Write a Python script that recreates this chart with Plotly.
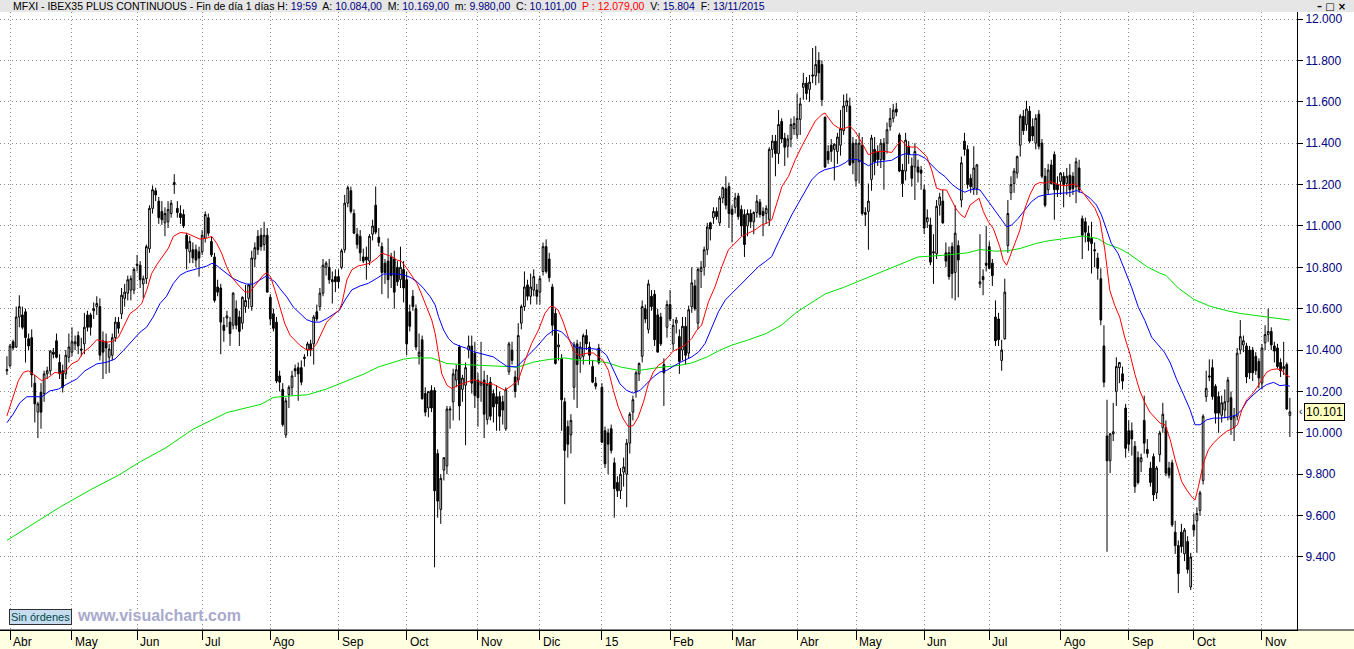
import plotly.graph_objects as go

# ---------------- data (daily candles, Apr-2014 .. 13-Nov-2015) ----------------
open_ = [
    10300,10325,10440,10415,10560,10570,10585,10455,10460,10240,
    10100,10195,10190,10285,10300,10390,10445,10340,10300,10285,
    10365,10390,10430,10470,10405,10430,10570,10570,10590,10610,
    10610,10445,10440,10365,10375,10460,10535,10575,10650,10675,
    10690,10690,10815,10810,10720,10745,10890,11085,11170,11120,
    11070,11015,11020,11060,11200,11085,11060,11055,10955,10875,
    10885,10885,10875,10875,10940,11040,10925,10850,10705,10700,
    10520,10555,10535,10520,10600,10560,10530,10610,10650,10610,
    10840,10950,10955,10910,10955,10655,10575,10535,10275,10210,
    9990,10185,10220,10310,10315,10315,10365,10400,10430,10430,
    10585,10610,10675,10800,10800,10740,10755,10755,
    10800,10885,11110,11170,11060,10960,10950,10850,10850,10830,
    10960,11100,10945,10900,10820,10830,10850,10840,10800,10740,
    10790,10740,10585,10660,10600,10370,10450,10190,10120,10205,
    10205,9900,9630,9820,9840,10110,10150,10255,10415,10210,
    10230,10400,10420,10385,10255,10230,10255,10065,10245,10190,
    10175,10175,10150,
    10020,10295,10400,10270,10255,10530,10610,10715,10660,10690,
    10690,10680,10780,10900,10840,10705,10577,10415,10360,10150,
    10030,9990,10220,10430,10360,10370,10470,10415,10320,10240,
    10410,10220,10010,10000,10020,9855,9760,9720,9810,9800,
    9950,10100,10200,10285,10370,10600,10500,10660,10670,10570,
    10560,10330,10510,10620,10430,
    10530,10465,10400,10515,10385,10610,10710,10530,10780,10800,
    10885,11015,11040,11070,11015,11135,11180,11190,11080,11090,
    11145,11080,11055,11000,11060,11020,11065,11115,11070,11060,
    11030,11370,11410,11350,11505,11425,11385,11420,11470,11440,
    11515,11670,11690,11660,11730,11725,11800,11780,11525,11360,
    11390,11370,11360,11390,
    11460,11580,11580,11400,11220,11310,11390,11055,11070,11225,
    11370,11360,11320,11400,11400,11480,11520,11565,11440,11270,
    11265,11385,11290,11285,11285,11270,11175,11020,11005,10875,
    10865,11100,11120,10870,10870,10900,10775,10905,11125,11410,
    11370,11230,11180,11180,10720,10755,10820,10900,10820,10560,
    10550,
    10350,10455,10905,11160,11205,11255,11390,11530,11490,11555,
    11480,11400,11540,11400,11240,11175,11295,11345,11200,11215,
    11240,11205,11245,11240,11190,11280,11035,11020,10965,10940,
    10885,10845,10745,10420,9985,9865,9995,10200,10315,10285,
    10120,10010,10010,9935,9880,9860,10060,9920,9830,
    9885,9710,9895,10025,10025,9830,9855,9520,9455,9520,
    9415,9475,9255,9555,9575,9625,9770,10175,10275,10315,
    10225,10175,10085,10110,10150,10170,10025,10080,10400,10425,
    10420,10400,10400,10370,10345,10240,10435,10475,10490,10420,
    10410,10340,10310,10330,10084,
]
high = [
    10370,10430,10450,10610,10665,10610,10600,10480,10500,10280,
    10150,10240,10300,10320,10400,10410,10480,10380,10330,10400,
    10480,10510,10470,10490,10460,10580,10590,10580,10630,10660,
    10650,10490,10480,10430,10480,10560,10560,10700,10720,10760,
    10760,10800,10860,10830,10760,10910,11100,11195,11185,11140,
    11120,11090,11120,11125,11250,11120,11100,11080,10965,10950,
    10920,10910,10900,10980,11070,11060,10950,10870,10740,10720,
    10560,10590,10560,10680,10640,10590,10660,10715,10720,10880,
    10920,10980,10990,11020,10990,10670,10600,10560,10300,10240,
    10170,10230,10300,10330,10340,10350,10380,10440,10450,10570,
    10620,10700,10840,10830,10840,10780,10790,10790,
    10890,11150,11195,11190,11080,10990,10980,10890,10900,10960,
    11030,11190,10990,10920,10840,10940,10870,10880,10830,10900,
    10830,10780,10620,10690,10620,10480,10470,10220,10200,10230,
    10220,9920,9800,9880,10130,10130,10310,10330,10425,10280,
    10340,10470,10470,10440,10290,10440,10300,10280,10270,10210,
    10230,10200,10180,
    10220,10440,10440,10300,10530,10620,10780,10740,10770,10790,
    10720,10760,10920,10935,10870,10720,10600,10480,10380,10170,
    10060,10090,10440,10450,10440,10480,10500,10440,10350,10270,
    10430,10240,10030,10020,10040,9880,9790,9830,9880,9970,
    10100,10180,10300,10340,10640,10620,10740,10690,10690,10600,
    10580,10360,10640,10690,10550,
    10560,10500,10560,10560,10615,10800,10740,10800,10830,10900,
    11015,11020,11090,11090,11145,11190,11240,11210,11100,11160,
    11160,11100,11080,11080,11080,11070,11150,11130,11090,11100,
    11380,11440,11440,11560,11520,11450,11440,11520,11530,11640,
    11620,11740,11720,11730,11860,11870,11840,11800,11530,11390,
    11420,11400,11450,11560,
    11635,11640,11620,11430,11420,11450,11430,11090,11205,11440,
    11430,11390,11420,11425,11500,11570,11590,11595,11450,11300,
    11450,11410,11330,11400,11320,11290,11200,11080,11040,10960,
    11125,11160,11175,10920,10900,10920,11100,10930,11335,11450,
    11390,11250,11385,11300,10960,10790,11000,10925,10840,10640,
    10580,
    10450,10745,11125,11240,11280,11340,11540,11560,11605,11580,
    11520,11540,11560,11420,11280,11300,11320,11360,11240,11260,
    11260,11280,11300,11260,11330,11320,11050,11040,11000,11020,
    10920,10870,10795,10520,10160,10000,10145,10365,10340,10320,
    10140,10060,10050,9960,9910,9900,10180,9970,9860,
    9900,9840,10010,10145,10060,9860,9870,9575,9480,9560,
    9540,9500,9420,9610,9640,9720,10090,10300,10355,10355,
    10235,10200,10180,10210,10270,10200,10120,10410,10545,10470,
    10435,10420,10415,10390,10360,10430,10520,10600,10510,10440,
    10430,10360,10440,10340,10169,
]
low = [
    10280,10315,10400,10410,10510,10500,10340,10400,10220,10050,
    9975,10020,10150,10260,10280,10360,10360,10260,10195,10260,
    10340,10370,10400,10380,10370,10380,10490,10470,10550,10570,
    10350,10260,10285,10290,10350,10440,10480,10550,10610,10640,
    10640,10670,10780,10700,10650,10720,10870,11060,11120,11010,
    11005,10950,10990,11040,11155,11040,11010,10990,10790,10820,
    10820,10800,10755,10860,10920,10950,10850,10630,10660,10380,
    10440,10510,10420,10500,10500,10420,10500,10580,10600,10590,
    10800,10860,10880,10880,10680,10520,10490,10240,10200,10030,
    9975,10120,10180,10270,10155,10230,10320,10370,10370,10330,
    10540,10590,10660,10760,10720,10625,10680,10700,
    10790,10870,11090,11060,10960,10890,10830,10820,10740,10810,
    10930,10960,10900,10670,10720,10650,10700,10600,10710,10700,
    10630,10375,10490,10590,10400,10330,10160,10080,10075,10100,
    9350,9590,9560,9770,9800,10020,10060,10220,10060,10150,
    9940,10360,10190,10120,10030,10150,9975,10040,10060,10050,
    10010,10010,10040,
    10010,10280,10330,10170,10230,10500,10590,10640,10620,10660,
    10620,10620,10760,10770,10730,10470,10330,10350,10010,9655,
    9880,9900,10160,10120,10290,10330,10400,10330,10240,10210,
    10330,9950,9830,9800,9900,9590,9690,9680,9740,9640,
    9900,10060,10170,10250,10340,10530,10480,10590,10420,10390,
    10420,10130,10460,10540,10400,
    10480,10285,10350,10330,10360,10580,10590,10500,10700,10760,
    10860,10930,11010,11030,11000,11110,11080,10990,10920,11060,
    11030,10950,10850,10950,10990,10960,11040,11040,10950,11010,
    11000,11330,11240,11300,11400,11290,11330,11380,11440,11420,
    11440,11610,11610,11600,11690,11680,11690,11580,11280,11300,
    11310,11220,11300,11340,
    11440,11550,11290,11250,11190,11205,11050,11000,10885,11170,
    11245,11290,11280,11175,11350,11460,11500,11530,11260,11140,
    11220,11300,11190,11125,11210,11175,10960,10990,10810,10720,
    10840,11050,11010,10800,10740,10650,10640,10655,11090,11340,
    11180,11160,11150,11150,10700,10665,10780,10790,10710,10420,
    10420,
    10300,10450,10870,11125,11160,11230,11335,11440,11460,11400,
    11410,11370,11370,11230,11090,11150,11200,11030,11140,11150,
    11090,11150,11140,11150,11110,11160,10840,10920,10880,10770,
    10800,10740,10520,10220,9425,9805,9960,10130,10240,10210,
    9880,9910,9890,9710,9750,9810,9900,9880,9740,
    9670,9680,9860,10000,9790,9780,9545,9415,9225,9420,
    9380,9320,9240,9500,9420,9600,9750,10150,10250,10160,
    10045,10000,10050,10070,10060,9990,9960,10060,10380,10390,
    10240,10260,10250,10280,10215,10210,10400,10440,10400,10340,
    10310,10270,10280,10110,9980,
]
close = [
    10305,10420,10410,10560,10610,10510,10460,10420,10280,10140,
    10140,10100,10285,10300,10395,10380,10365,10285,10220,10375,
    10415,10440,10440,10420,10400,10510,10510,10510,10600,10625,
    10375,10390,10410,10405,10460,10535,10505,10665,10680,10740,
    10745,10790,10810,10740,10745,10900,11085,11175,11150,11040,
    11030,11060,11080,11110,11210,11065,11040,11000,10890,10925,
    10845,10835,10845,10955,11055,10965,10860,10640,10680,10535,
    10495,10565,10480,10675,10520,10490,10655,10640,10715,10845,
    10895,10885,10900,10955,10680,10550,10505,10250,10245,10040,
    10155,10220,10275,10300,10285,10245,10360,10430,10400,10560,
    10550,10675,10810,10820,10740,10730,10730,10730,
    10880,11110,11185,11070,10965,10910,10870,10830,10835,10950,
    11000,10970,10920,10775,10775,10740,10760,10680,10730,10800,
    10700,10430,10515,10610,10415,10390,10165,10100,10200,10120,
    9720,9670,9780,9880,10115,10115,10285,10305,10130,10265,
    10315,10420,10240,10180,10170,10245,10090,10235,10080,10125,
    10140,10080,10110,
    10210,10430,10350,10200,10470,10610,10705,10660,10705,10755,
    10660,10745,10900,10780,10750,10520,10335,10425,10160,9915,
    9945,10060,10425,10330,10415,10470,10430,10375,10245,10225,
    10340,9955,9850,9945,9915,9730,9720,9800,9835,9950,
    10090,10160,10290,10335,10610,10550,10720,10610,10450,10390,
    10430,10290,10620,10550,10520,
    10545,10345,10515,10375,10595,10725,10600,10790,10800,10885,
    10995,10985,11070,11045,11135,11185,11100,11060,11055,11135,
    11045,11000,10910,11060,11020,11065,11120,11055,11050,11085,
    11370,11410,11350,11490,11420,11380,11420,11490,11495,11520,
    11590,11690,11640,11695,11725,11780,11740,11610,11285,11320,
    11360,11395,11430,11470,
    11580,11605,11295,11305,11400,11400,11060,11065,11120,11425,
    11310,11320,11400,11320,11465,11520,11560,11550,11265,11205,
    11415,11345,11230,11360,11260,11255,10990,11040,10825,10870,
    11095,11140,11015,10830,10755,10770,10965,10835,11305,11370,
    11200,11190,11280,11295,10730,10740,10810,10795,10760,10445,
    10450,
    10400,10680,11060,11200,11265,11335,11530,11460,11565,11410,
    11435,11520,11385,11240,11100,11270,11205,11175,11175,11255,
    11200,11240,11175,11180,11310,11175,10955,10970,10925,10915,
    10880,10795,10545,10245,9865,9995,10005,10320,10340,10250,
    9925,9945,9970,9740,9760,9880,9950,9900,9760,
    9700,9830,9999,10090,9805,9795,9555,9455,9320,9450,
    9530,9340,9400,9530,9610,9710,10080,10215,10270,10175,
    10095,10095,10145,10150,10255,10065,10080,10385,10465,10445,
    10270,10290,10290,10300,10265,10410,10475,10490,10425,10395,
    10320,10300,10320,10115,10101,
]

# moving averages (candle index, value)
red_x = [0,2,3.7,5.3,6.9,8.5,11.2,13.4,15.5,17.7,
         19.3,20.9,23,24.7,26.8,29,30,32.2,34.3,36,
         37.6,39.7,41.9,43.5,45.1,46.7,48.3,50.5,52.1,53.7,
         55.9,58,60.2,62.3,64.5,66.1,67.7,69.3,70.9,72.5,
         74.7,76.8,78.4,80.1,81.7,82.7,83.8,85.1,86.5,88.1,
         89.7,91.4,93,94.6,96.7,98.3,99.9,101.6,103.2,105.3,
         107.3,108.1,109.7,111.3,113.4,115.1,117.2,119.4,121,122.6,
         124.2,125.8,127.4,129,130.7,132.3,133.9,135.5,137.1,138.2,
         139.3,140.3,142,143.6,145.7,147.3,149,150.6,152.7,154.9,
         157,159.2,160.7,162.9,165,167.2,169.3,171.5,173.6,175.2,
         176.3,177.9,179.5,181.1,182.8,184.4,186,187.6,189.2,190.8,
         192.4,194.1,195.7,197.3,198.9,200.5,202.1,203.7,205.4,207,
         208.6,210.2,211.8,213.4,215,216.7,218.9,221,222.6,224.2,
         226.4,228.5,230.7,232.8,235,237.1,239.3,241.4,243.6,245.2,
         246.8,248.4,250.1,252.2,254.4,256.5,258.7,260.8,263,264,
         265.1,266.7,268.3,270,272,273.7,275.3,276.9,278,279.6,
         281.2,283.3,285.5,287.1,288.7,290.3,291.9,293.6,295.2,296.8,
         298.4,300,301.6,303.2,304.8,306.5,307.9,309.1,310.8,312.4,
         313.7,315.1,316.7,318.3,320.4,321.5,322.6,323.6,325.3,326.9,
         328.5,330.1,331.7,333.3,334.9,336.5,338.2,339.8,341.4,343,
         344.6,345.7,347.3,348.9,351.1,352.7,354.3,355.9,357.5,359.1,
         360.7,362.4,364,365.6,367.2,368.8,370.5,372.1,373.7,375.4,
         377,379.1,380.7,382.3,383.4,384.5,386.1,387.7,389.3,391.5,
         393.6,395.8,397.1,398.5,400.1,401.7,403.3,404.9,406.5,408.2,
         409.8,411.4,412.5,414]
red_y = [10082,10170,10252,10292,10300,10284,10252,10268,10292,10287,
         10304,10333,10349,10390,10414,10450,10446,10438,10443,10462,
         10511,10576,10600,10625,10689,10770,10811,10860,10892,10949,
         10968,10965,10949,10936,10941,10949,10916,10868,10803,10754,
         10714,10681,10681,10714,10746,10762,10774,10754,10689,10608,
         10527,10471,10446,10422,10401,10401,10430,10487,10535,10568,
         10595,10626,10739,10788,10807,10812,10820,10844,10869,10860,
         10852,10836,10828,10796,10755,10723,10666,10610,10545,10480,
         10383,10286,10230,10214,10230,10238,10246,10257,10246,10238,
         10235,10219,10205,10229,10253,10350,10431,10496,10577,10609,
         10612,10593,10536,10464,10399,10375,10380,10386,10386,10367,
         10350,10302,10205,10124,10067,10030,10035,10076,10148,10237,
         10294,10326,10342,10367,10395,10407,10424,10456,10496,10521,
         10634,10706,10803,10884,10916,10949,10965,10981,11005,11013,
         11029,11102,11191,11239,11320,11385,11449,11506,11538,11546,
         11522,11490,11474,11469,11482,11457,11417,11377,11344,11355,
         11360,11360,11355,11388,11414,11385,11381,11381,11360,11336,
         11271,11182,11174,11174,11126,11077,11053,11040,11101,11117,
         11134,11069,11020,10988,10899,10834,10810,10850,10915,10980,
         11085,11150,11198,11210,11206,11215,11206,11198,11194,11198,
         11203,11190,11158,11126,11085,11028,10883,10688,10615,10559,
         10462,10381,10283,10202,10146,10100,10071,10047,10039,9966,
         9869,9764,9724,9691,9675,9740,9853,9918,9950,9982,
         10007,10023,10039,10112,10160,10184,10217,10257,10293,10306,
         10309,10303,10281,10270]

blue_x = [0,2,4.2,6.4,8.5,11.2,13.9,16.6,19.3,22.5,
          25.2,27.9,29,32.2,34.9,37.6,40.8,43,45.1,47.2,
          49.4,51.5,53.7,55.9,58,60.2,62.3,64.5,66.1,67.1,
          68.8,70.9,73,75.2,77.4,79.5,81.7,83.6,84.9,86.5,
          88.1,90.3,92.4,94.6,96.7,98.9,101,103.2,105.3,107.3,
          109.1,111.3,114,116.7,119.4,121.5,123.7,125.8,128,130.1,
          132.3,134.4,136.6,138.2,139.3,140.9,142.5,144.1,146.2,148.4,
          150.6,152.7,154.9,157,159.2,161.3,164.5,167.7,170.9,174.2,
          176.8,179,181.1,183.3,186,188.7,191.4,193.5,195.7,197.8,
          200,202.1,204.3,206.4,208.6,210.7,212.9,215,217.2,221,
          223.2,225.3,227.5,229.6,231.8,233.9,236.1,238.2,240.4,242.5,
          244.7,246.8,249,251.1,253.3,255.4,257.6,259.7,261.9,264,
          266.2,268.3,270.5,272,274.7,276.9,278,280.1,283.3,285.5,
          287.6,289.8,291.9,294.1,296.2,298.4,300.5,302.7,304.8,307,
          309.1,310.8,312.4,314,315.6,317.2,318.8,321,322.6,324.2,
          326.3,328.5,330.6,332.8,334.9,337.6,340.3,343,345.2,347.3,
          349.5,351.6,353.2,354.8,356.4,358.6,360.7,362.9,365.1,367.2,
          369.4,371.5,373.5,375.4,377.5,379.7,381.8,383.4,385,387.2,
          389.3,391.5,394.2,396.9,398.5,400.1,402.2,404.4,406.5,408.7,
          410.8,412.5,414]
blue_y = [10049,10090,10146,10174,10175,10174,10203,10211,10235,10260,
          10300,10325,10333,10341,10357,10398,10454,10487,10511,10560,
          10625,10660,10722,10762,10779,10787,10795,10806,10819,10816,
          10795,10770,10746,10730,10719,10719,10738,10757,10746,10730,
          10697,10657,10608,10576,10547,10535,10535,10552,10573,10592,
          10642,10691,10710,10723,10747,10767,10768,10768,10763,10752,
          10731,10699,10658,10618,10561,10497,10456,10432,10419,10408,
          10392,10383,10375,10367,10343,10322,10318,10367,10415,10472,
          10499,10488,10456,10415,10407,10407,10402,10375,10302,10237,
          10205,10192,10205,10237,10270,10294,10302,10321,10340,10367,
          10391,10432,10512,10585,10642,10674,10706,10739,10771,10803,
          10827,10852,10924,10989,11054,11110,11167,11223,11256,11272,
          11280,11288,11305,11323,11320,11300,11291,11307,11312,11317,
          11336,11349,11344,11344,11328,11296,11263,11239,11203,11178,
          11163,11174,11178,11174,11142,11109,11080,11030,10996,11004,
          11036,11077,11117,11142,11150,11155,11158,11161,11171,11158,
          11134,11101,11053,10980,10915,10866,10785,10704,10607,10543,
          10462,10425,10390,10338,10257,10184,10112,10039,10039,10063,
          10071,10071,10076,10087,10112,10152,10184,10212,10233,10244,
          10228,10231,10225]

green_x = [0,8,17,27,36,43,51,60,71,82,
           86,92,97,103,108,115,120,124,128,131,
           137,140,142,147,153,158,165,170,175,180,
           185,189,194,198,204,210,217,221,226,230,
           234,239,245,250,255,261,264,270,278,283,
           289,294,302,310,314,319,323,327,332,336,
           340,345,347,349,352,355,359,362,365,368,
           372,374,378,383,388,394,398,403,409,414]
green_y = [9480,9555,9640,9725,9795,9860,9925,10017,10098,10138,
           10171,10179,10184,10211,10240,10283,10319,10338,10356,10362,
           10362,10346,10335,10330,10327,10322,10318,10342,10355,10362,
           10350,10350,10338,10318,10302,10315,10326,10338,10367,10399,
           10424,10448,10480,10521,10585,10642,10671,10703,10753,10785,
           10821,10850,10858,10870,10886,10878,10880,10891,10915,10928,
           10936,10947,10951,10947,10939,10912,10891,10866,10834,10802,
           10772,10761,10700,10645,10613,10589,10577,10568,10556,10545]

month_labels = ["Abr", "May", "Jun", "Jul", "Ago", "Sep", "Oct", "Nov", "Dic", "15",
                "Feb", "Mar", "Abr", "May", "Jun", "Jul", "Ago", "Sep", "Oct", "Nov"]
month_start = [1, 21, 42, 63, 85, 107, 129, 152, 172, 192,
               214, 234, 255, 274, 296, 317, 340, 362, 383, 405]
y_ticks = [9400, 9600, 9800, 10000, 10200, 10400, 10600, 10800,
           11000, 11200, 11400, 11600, 11800, 12000]
last_price = 10101
last_price_text = "10.101"

header = [("MFXI - IBEX35 PLUS CONTINUOUS - Fin de día 1 días H: ", "black"), ("19:59", "#000080"),
          ("  A: ", "black"), ("10.084,00", "#000080"),
          ("  M: ", "black"), ("10.169,00", "#000080"),
          ("  m: ", "black"), ("9.980,00", "#000080"),
          ("  C: ", "black"), ("10.101,00", "#000080"),
          ("  P : 12.079,00", "#FF0000"),
          ("  V: ", "black"), ("15.804", "#000080"),
          ("  F: ", "black"), ("13/11/2015", "#000080")]

# ---------------- figure ----------------
W, H = 1354, 649
ML, MR, MT, MB = 0, 57, 12, 19
PW, PH = W - ML - MR, H - MT - MB

n = min(len(open_), len(high), len(low), len(close))
xs = list(range(n))

fig = go.Figure()
fig.add_trace(go.Candlestick(
    x=xs, open=open_[:n], high=high[:n], low=low[:n], close=close[:n],
    increasing=dict(line=dict(color="black", width=1), fillcolor="white"),
    decreasing=dict(line=dict(color="black", width=1), fillcolor="black"),
    whiskerwidth=0, hoverinfo="skip", showlegend=False))
fig.add_trace(go.Scatter(x=green_x, y=green_y[:len(green_x)], mode="lines",
                         line=dict(color="#00E000", width=1), hoverinfo="skip", showlegend=False))
fig.add_trace(go.Scatter(x=blue_x, y=blue_y[:len(blue_x)], mode="lines",
                         line=dict(color="#0000FF", width=1), hoverinfo="skip", showlegend=False))
fig.add_trace(go.Scatter(x=red_x, y=red_y[:len(red_x)], mode="lines",
                         line=dict(color="#FF0000", width=1), hoverinfo="skip", showlegend=False))

font_family = "Liberation Sans, Arial, sans-serif"
px_x = 1.0 / PW
px_y = 1.0 / PH

shapes = [
    # title bar
    dict(type="rect", xref="paper", yref="paper", x0=0, x1=W * px_x, y0=1, y1=1 + MT * px_y,
         fillcolor="#E6E6E6", line=dict(width=0), layer="below"),
    # bottom yellow strip
    dict(type="rect", xref="paper", yref="paper", x0=0, x1=W * px_x, y0=-MB * px_y, y1=0,
         fillcolor="#FFFFE1", line=dict(width=0), layer="below"),
    # bottom border line across the whole width
    dict(type="line", xref="paper", yref="paper", x0=0, x1=W * px_x, y0=0, y1=0,
         line=dict(color="black", width=1)),
]

annotations = []
header_html = "".join('<span style="color:%s">%s</span>' % (c, t) for t, c in header)
annotations.append(dict(xref="paper", yref="paper", x=0, y=1 + 6 * px_y, xanchor="left", yanchor="middle",
                        xshift=11, text=header_html, showarrow=False,
                        font=dict(family=font_family, size=10.5, color="black")))
# window buttons (minimise / maximise / close)
annotations.append(dict(xref="paper", yref="paper", x=W * px_x, y=1 + 6 * px_y, xanchor="right",
                        yanchor="middle", xshift=-6, text="<b>–</b> □ <b>×</b>", showarrow=False,
                        font=dict(family="DejaVu Sans", size=10, color="black")))
for lab, idx in zip(month_labels, month_start):
    annotations.append(dict(xref="x", yref="paper", x=idx, y=0, xanchor="left", yanchor="top",
                            xshift=1, yshift=-3, text=lab, showarrow=False,
                            font=dict(family=font_family, size=12, color="black")))
annotations.append(dict(xref="paper", yref="paper", x=9 * px_x, y=13 * px_y, xanchor="left",
                        yanchor="middle", text="Sin órdenes", showarrow=False,
                        bgcolor="#C8DCF0", bordercolor="#303030", borderwidth=1, borderpad=1,
                        font=dict(family=font_family, size=11, color="#004848")))
annotations.append(dict(xref="paper", yref="paper", x=75 * px_x, y=15 * px_y, xanchor="left",
                        yanchor="middle", text="<b>www.visualchart.com</b>", showarrow=False,
                        font=dict(family=font_family, size=16, color="#A8AACC")))
annotations.append(dict(xref="paper", yref="y", x=1, y=last_price, xanchor="left", yanchor="middle",
                        xshift=7, text=last_price_text, showarrow=False,
                        bgcolor="#FFFFC0", bordercolor="black", borderwidth=1, borderpad=1,
                        font=dict(family=font_family, size=12, color="black")))
annotations.append(dict(xref="paper", yref="y", x=1, y=last_price, xanchor="left", yanchor="middle",
                        xshift=0, text="‹", showarrow=False,
                        font=dict(family=font_family, size=10, color="black")))

fig.update_layout(
    width=W, height=H, autosize=False,
    margin=dict(l=ML, r=MR, t=MT, b=MB, pad=0),
    paper_bgcolor="white", plot_bgcolor="white",
    separators=",.",
    showlegend=False,
    boxgap=0.22,
    shapes=shapes, annotations=annotations,
    xaxis=dict(range=[-2.23, 416.3], tickvals=month_start, showticklabels=False,
               ticks="outside", ticklen=9, tickcolor="black", tickwidth=1,
               showgrid=True, gridcolor="#8C8C8C", griddash="1px,3px", gridwidth=1,
               showline=True, linecolor="black", linewidth=1, zeroline=False,
               rangeslider=dict(visible=False), fixedrange=True),
    yaxis=dict(range=[9047, 12034], side="right", tickvals=y_ticks, tickformat=",d",
               ticks="outside", ticklen=5, tickcolor="black", tickwidth=1,
               tickfont=dict(family=font_family, size=12, color="#000080"),
               showgrid=True, gridcolor="#8C8C8C", griddash="1px,3px", gridwidth=1,
               showline=True, linecolor="black", linewidth=1, zeroline=False, fixedrange=True),
)

fig.write_html("out.html", config={"displayModeBar": False},
               post_script="document.body.style.margin='0';document.body.style.overflow='hidden';")
